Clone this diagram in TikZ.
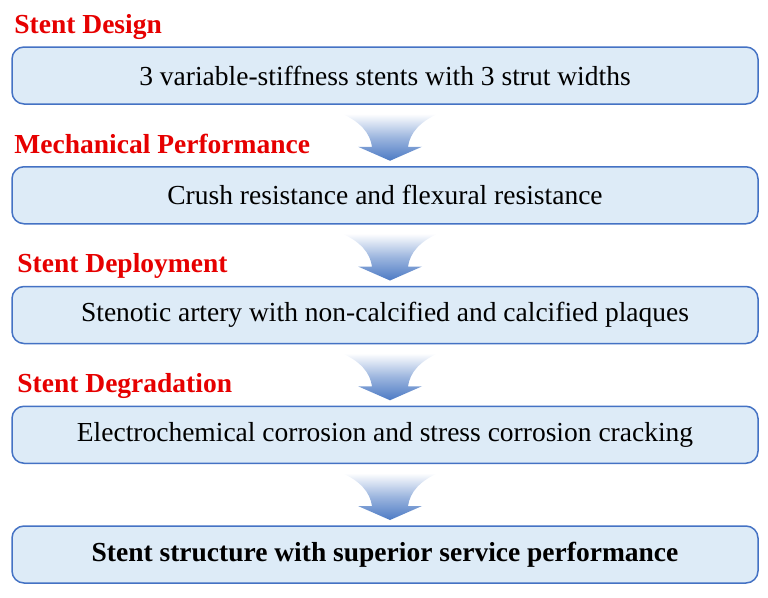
\documentclass[tikz,border=0pt]{standalone}
\usepackage{fontspec}
\setmainfont{Liberation Serif}
\usetikzlibrary{positioning}
\definecolor{boxfill}{RGB}{221,235,247}
\definecolor{boxline}{RGB}{68,114,196}
\definecolor{headred}{RGB}{230,0,0}
\definecolor{arrowblue}{RGB}{76,122,196}

\begin{document}
\begin{tikzpicture}[node distance={61.25pt},
    stepbox/.style={draw=boxline, line width=1.5pt, fill=boxfill, rounded corners=12pt,
      minimum width=746pt, minimum height=57pt, font=\fontsize{27.5}{33}\selectfont},
    heading/.style={text=headred, font=\fontsize{27.5}{33}\selectfont\bfseries,
      inner sep=0pt, anchor=base west},
    downarrow/.style={top color=white, bottom color=arrowblue, middle color=arrowblue!55, draw=none}]
        \useasboundingbox (0,0) rectangle (768pt,-597pt);

        \node[stepbox] (design) at (385pt,-75.5pt) {3 variable-stiffness stents with 3 strut widths};
        \node[stepbox] (mech) [below=of design] {Crush resistance and flexural resistance};
        \node[stepbox] (deploy) [below=of mech] {Stenotic artery with non-calcified and calcified plaques};
        \node[stepbox] (degrad) [below=of deploy] {Electrochemical corrosion and stress corrosion cracking};
        \node[stepbox] (result) [below=of degrad] {\bfseries Stent structure with superior service performance};

        \node[heading] (designlbl) at ([shift={(3pt,13pt)}]design.north west) {Stent Design};
        \node[heading] (mechlbl) at ([shift={(3pt,13pt)}]mech.north west) {Mechanical Performance};
        \node[heading] (deploylbl) at ([shift={(6pt,13pt)}]deploy.north west) {Stent Deployment};
        \node[heading] (degradlbl) at ([shift={(6pt,13pt)}]degrad.north west) {Stent Degradation};

        \foreach \a in {design, mech, deploy, degrad} {
            \begin{scope}[shift={(\a.south)}, x=1pt, y=1pt, xshift=5pt]
                \path[downarrow] (-48,-9) -- (48,-9)
                    .. controls (30,-17) and (20,-28) .. (18,-42) -- (32,-42) -- (0,-56)
                    -- (-32,-42) -- (-18,-42)
                    .. controls (-20,-28) and (-30,-17) .. (-48,-9) -- cycle;
            \end{scope}
        }
    \end{tikzpicture}
\end{document}
